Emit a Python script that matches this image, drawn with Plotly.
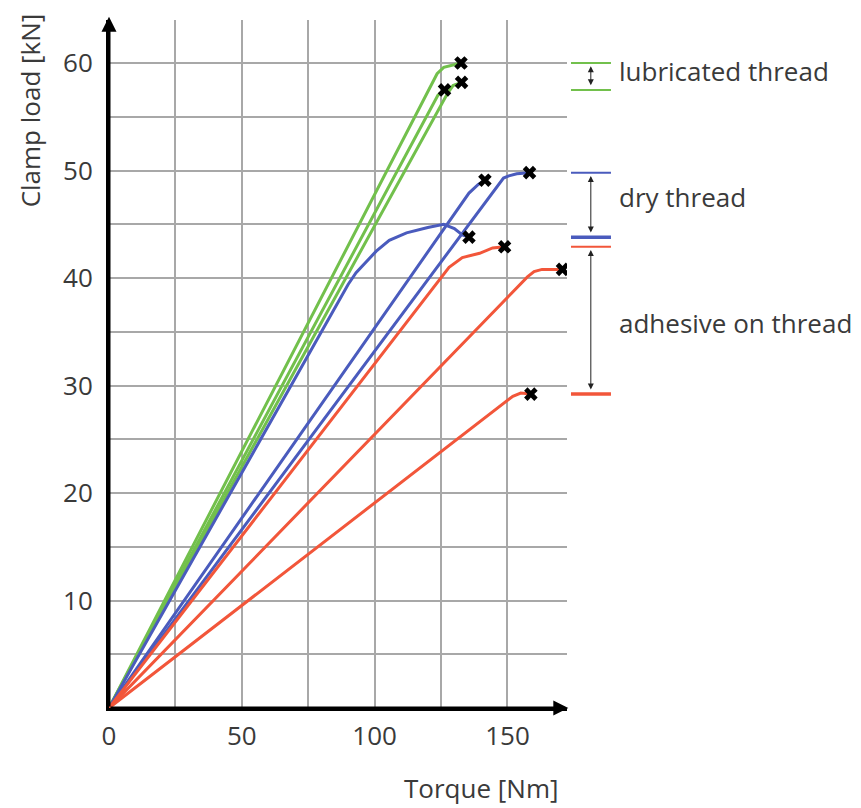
import plotly.graph_objects as go

# ---- data ----
lub1_torque = [0, 123.5, 126, 129, 132.5]
lub1_load = [0, 59.0, 59.6, 59.8, 60.0]
lub2_torque = [0, 123.8, 126.3]
lub2_load = [0, 57.0, 57.5]
lub3_torque = [0, 127.5, 129.5, 132.7]
lub3_load = [0, 57.2, 57.9, 58.2]

dry1_torque = [0, 86, 90, 93, 97, 100.6, 105.5, 112, 120, 126, 130, 133, 135.5]
dry1_load = [0, 37.6, 39.4, 40.5, 41.6, 42.5, 43.5, 44.2, 44.7, 45.0, 44.6, 44.0, 43.8]
dry2_torque = [0, 131, 135.5, 139, 141.5]
dry2_load = [0, 46.2, 47.9, 48.7, 49.1]
dry3_torque = [0, 148.5, 150.5, 153.5, 158.3]
dry3_load = [0, 49.3, 49.5, 49.7, 49.8]

adh1_torque = [0, 124.4, 128, 133, 139.5, 144.4, 148.9]
adh1_load = [0, 39.8, 41.0, 41.9, 42.3, 42.8, 42.9]
adh2_torque = [0, 155, 157.5, 160, 163, 170.7]
adh2_load = [0, 39.4, 40.1, 40.6, 40.8, 40.8]
adh3_torque = [0, 152, 155, 158.8]
adh3_load = [0, 29.0, 29.3, 29.2]

x_tickvals = [0, 25, 50, 75, 100, 125, 150]
x_ticktext = ["0", "", "50", "", "100", "", "150"]
y_tickvals = [0, 5, 10, 15, 20, 25, 30, 35, 40, 45, 50, 55, 60]
y_ticktext = ["", "", "10", "", "20", "", "30", "", "40", "", "50", "", "60"]

group_names = ["lubricated thread", "dry thread", "adhesive on thread"]
group_colors = ["#72c04c", "#4a5bbd", "#f2563a"]

groups = [
    [(lub1_torque, lub1_load), (lub2_torque, lub2_load), (lub3_torque, lub3_load)],
    [(dry1_torque, dry1_load), (dry2_torque, dry2_load), (dry3_torque, dry3_load)],
    [(adh1_torque, adh1_load), (adh2_torque, adh2_load), (adh3_torque, adh3_load)],
]

FONT = "Open Sans"
TXT = "#3a3a3a"
X_MAX = 172.4
Y_MAX = 64.0

fig = go.Figure()

for gi, series in enumerate(groups):
    for tx, ld in series:
        fig.add_trace(go.Scatter(x=tx, y=ld, mode="lines",
                                 line=dict(color=group_colors[gi], width=3),
                                 hoverinfo="skip"))

# failure markers at curve ends
end_x = [s[0][-1] for g in groups for s in g]
end_y = [s[1][-1] for g in groups for s in g]
fig.add_trace(go.Scatter(x=end_x, y=end_y, mode="markers",
                         marker=dict(symbol="x", size=12, color="black",
                                     line=dict(width=0)),
                         hoverinfo="skip"))

shapes = []
annotations = []
# range bars on the right
bar_x0, bar_x1, arr_x = 1.0087, 1.096, 1.052
label_y = [59.3, 47.5, 35.8]
for gi, series in enumerate(groups):
    ends = [s[1][-1] for s in series]
    hi, lo = max(ends), min(ends)
    wid_lo = 2 if gi == 0 else 3.5
    shapes.append(dict(type="line", xref="paper", yref="y", x0=bar_x0, x1=bar_x1,
                       y0=hi, y1=hi, line=dict(color=group_colors[gi], width=2)))
    shapes.append(dict(type="line", xref="paper", yref="y", x0=bar_x0, x1=bar_x1,
                       y0=lo, y1=lo, line=dict(color=group_colors[gi], width=wid_lo)))
    annotations.append(dict(xref="paper", yref="y", x=arr_x, y=hi - 0.3,
                            axref="pixel", ayref="y", ax=0, ay=lo + 0.3,
                            text="", showarrow=True, arrowside="end+start",
                            arrowhead=2, arrowsize=1.2, arrowwidth=1,
                            arrowcolor="#222"))
    annotations.append(dict(xref="paper", yref="y", x=1.109, y=label_y[gi],
                            text=group_names[gi], showarrow=False,
                            xanchor="left", yanchor="middle",
                            font=dict(family=FONT, size=26, color=TXT)))

# axis arrows
annotations.append(dict(xref="x", yref="y", x=0, y=Y_MAX + 0.3, axref="x", ayref="y",
                        ax=0, ay=0, text="", showarrow=True, arrowhead=2,
                        arrowsize=1, arrowwidth=3, arrowcolor="black"))
annotations.append(dict(xref="x", yref="y", x=X_MAX + 0.5, y=0, axref="x", ayref="y",
                        ax=0, ay=0, text="", showarrow=True, arrowhead=2,
                        arrowsize=1, arrowwidth=3, arrowcolor="black"))

# axis titles
annotations.append(dict(xref="paper", yref="paper", x=-0.172, y=0.869,
                        text="Clamp load [kN]", textangle=-90, showarrow=False,
                        xanchor="center", yanchor="middle",
                        font=dict(family=FONT, size=26, color=TXT)))
annotations.append(dict(xref="paper", yref="paper", x=0.813, y=-0.117,
                        text="Torque [Nm]", showarrow=False,
                        xanchor="center", yanchor="middle",
                        font=dict(family=FONT, size=26, color=TXT)))

fig.update_layout(
    width=861, height=808,
    margin=dict(l=109, r=294, t=20, b=100),
    plot_bgcolor="white", paper_bgcolor="white",
    showlegend=False,
    shapes=shapes, annotations=annotations,
    font=dict(family=FONT, size=26, color=TXT),
)
fig.update_xaxes(range=[0, X_MAX], tickvals=x_tickvals, ticktext=x_ticktext,
                 showgrid=True, gridcolor="#a8a8a8", gridwidth=1.5,
                 showline=True, linecolor="black", linewidth=3,
                 ticks="outside", ticklen=3, tickcolor="rgba(0,0,0,0)",
                 zeroline=False, tickfont=dict(family=FONT, size=26, color=TXT))
fig.update_yaxes(range=[0, Y_MAX], tickvals=y_tickvals, ticktext=y_ticktext,
                 showgrid=True, gridcolor="#a8a8a8", gridwidth=1.5,
                 showline=True, linecolor="black", linewidth=3,
                 ticks="outside", ticklen=8, tickcolor="rgba(0,0,0,0)",
                 zeroline=False, tickfont=dict(family=FONT, size=26, color=TXT))

fig.write_html("out.html", config={"displayModeBar": False},
               post_script="document.body.style.margin='0px';"
                           "document.body.style.overflow='hidden';")
